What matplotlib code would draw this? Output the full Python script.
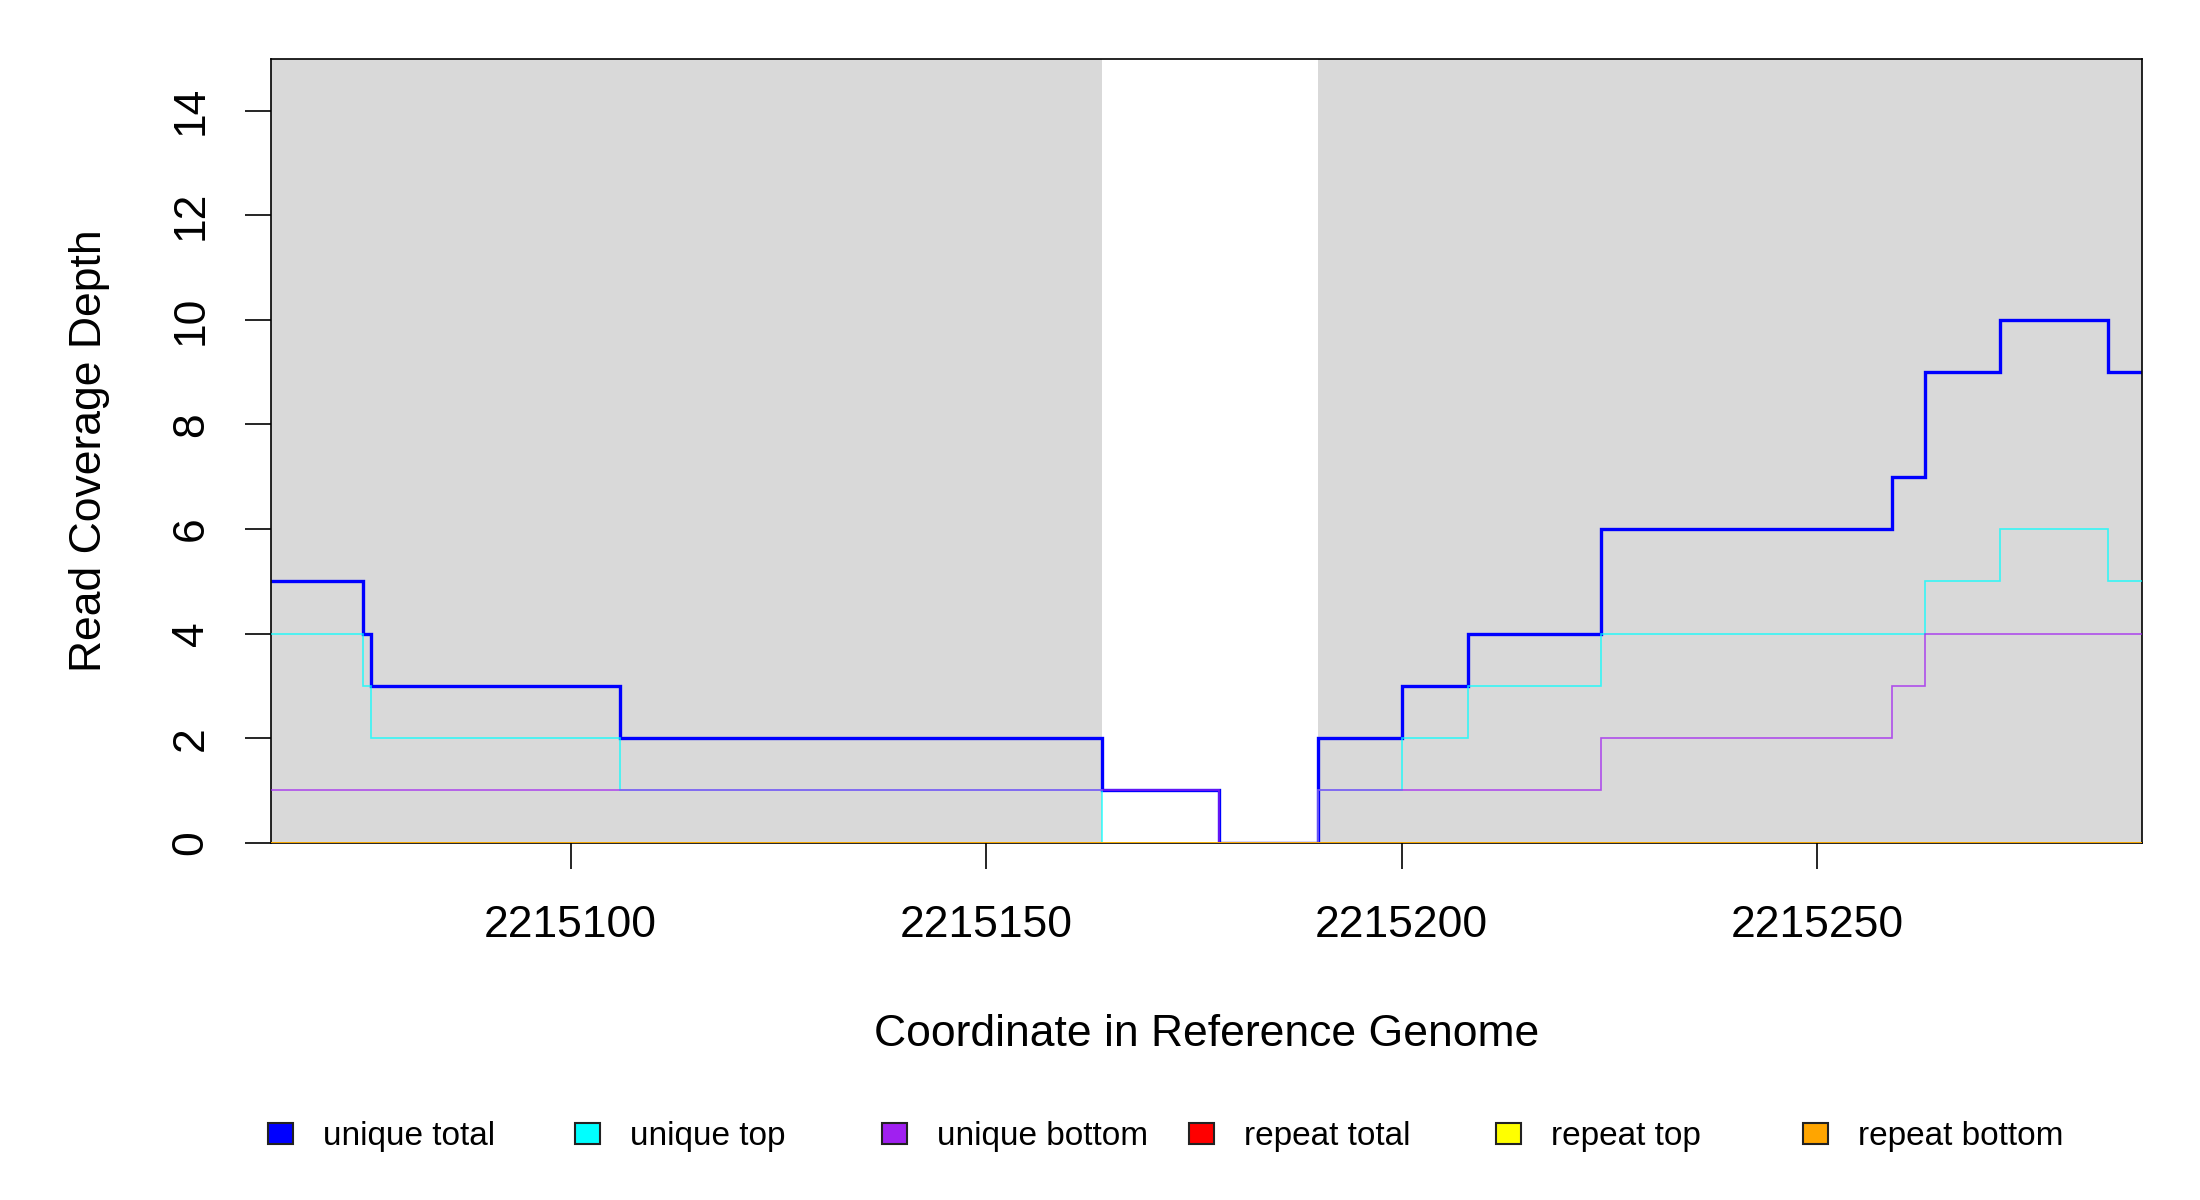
import matplotlib
matplotlib.use("Agg")
import matplotlib.pyplot as plt
from matplotlib.patches import Rectangle

plt.rcParams['font.family'] = ['Liberation Sans', 'DejaVu Sans']

# step edges (genome coordinate) and per-segment depths
edges = [2215064, 2215075, 2215076, 2215106, 2215164, 2215178, 2215190,
         2215200, 2215208, 2215224, 2215259, 2215263, 2215272, 2215285, 2215289.1]
unique_total = [5, 4, 3, 2, 1, 0, 2, 3, 4, 6, 7, 9, 10, 9]
unique_top = [4, 3, 2, 1, 0, 0, 1, 2, 3, 4, 4, 5, 6, 5]
unique_bottom = [1, 1, 1, 1, 1, 0, 1, 1, 1, 2, 3, 4, 4, 4]
repeat_total = [0] * 14
repeat_top = [0] * 14
repeat_bottom = [0] * 14

# shaded (aligned) blocks
blocks = [(2215064, 2215164), (2215190, 2215289.1)]

series_names = ["unique total", "unique top", "unique bottom",
                "repeat total", "repeat top", "repeat bottom"]
series_colors = ["#0000FF", "#00FFFF", "#A020F0", "#FF0000", "#FFFF00", "#FFA500"]
series_vals = [unique_total, unique_top, unique_bottom,
               repeat_total, repeat_top, repeat_bottom]

W, H = 2200, 1200
fig = plt.figure(figsize=(W / 100, H / 100), dpi=100)
ax = fig.add_axes([271.4 / W, 1 - 842.7 / H, (2142 - 271.4) / W, (842.7 - 58.5) / H])

for a, b in blocks:
    ax.axvspan(a, b, color="#D9D9D9", lw=0, zorder=0)

for i, (vals, col) in enumerate(zip(series_vals, series_colors)):
    if i == 0:
        ax.stairs(vals, edges, baseline=None, color=col, lw=2.4, zorder=2)
    else:
        ax.stairs(vals, edges, baseline=None, color=col, lw=1.2, alpha=0.75, zorder=2 + i * 0.1)

ax.set_xlim(2215064, 2215289.1)
ax.set_ylim(0, 15)
ax.set_xticks([2215100, 2215150, 2215200, 2215250])
ax.set_xticklabels(["2215100", "2215150", "2215200", "2215250"])
ax.set_yticks(range(0, 15, 2))
for lab in ax.get_yticklabels():
    lab.set_rotation(90)
    lab.set_va("center")
ax.tick_params(axis="x", length=19, width=1.2, labelsize=32, pad=26)
ax.tick_params(axis="y", length=19, width=1.2, labelsize=32, pad=24)
for s in ax.spines.values():
    s.set_linewidth(1.2)
    s.set_zorder(2.05)

ax.set_xlabel("Coordinate in Reference Genome", fontsize=32)
ax.xaxis.set_label_coords(0.5, -0.244)
ax.xaxis.label.set_va("center")
ax.set_ylabel("Read Coverage Depth", fontsize=32)
ax.yaxis.set_label_coords(-0.097, 0.5)
ax.yaxis.label.set_va("center")

# legend row under the plot
x0, step, yc = 280, 307, 1133
for i, (name, col) in enumerate(zip(series_names, series_colors)):
    cx = x0 + i * step
    fig.patches.append(Rectangle(((cx - 12.5) / W, 1 - (yc + 10.5) / H), 25 / W, 21 / H,
                                 transform=fig.transFigure, facecolor=col,
                                 edgecolor="#222222", lw=1.5))
    fig.text((cx + 43) / W, 1 - 1145 / H, name, fontsize=24, va="baseline", ha="left")

fig.savefig("out.png", dpi=100)
